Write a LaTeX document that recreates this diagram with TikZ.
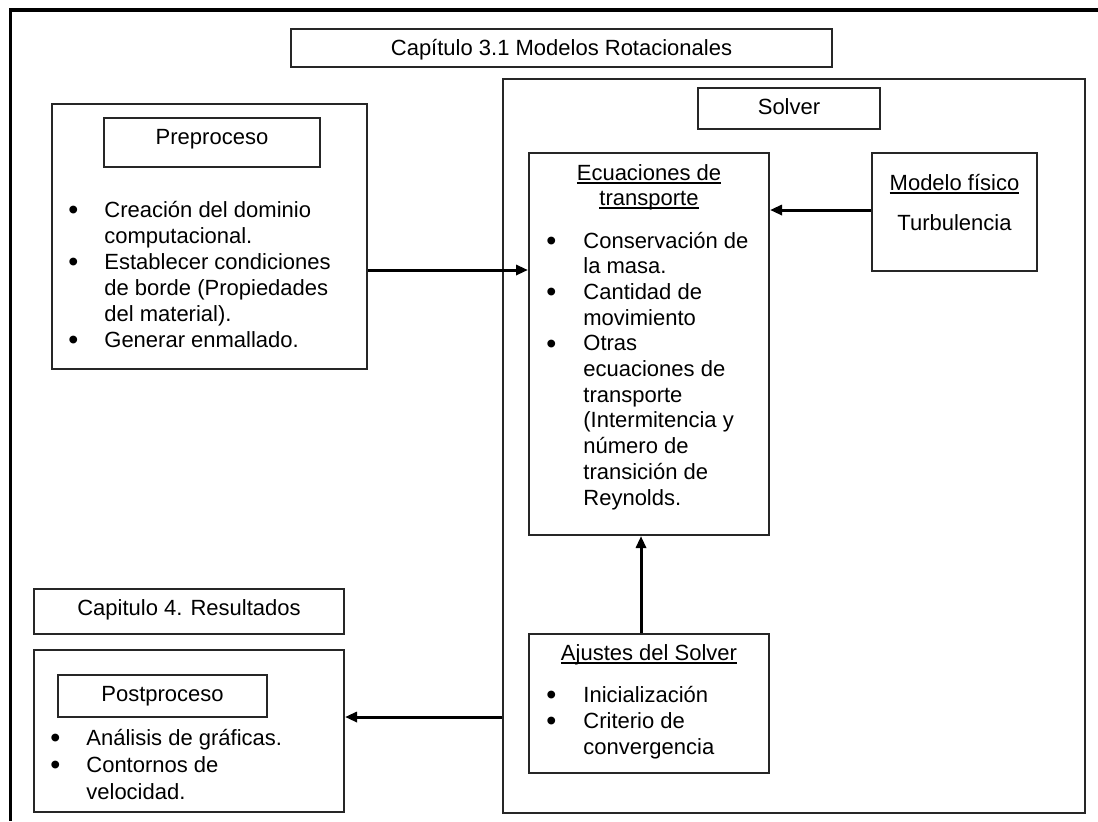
\documentclass[tikz,border=0pt]{standalone}
\usepackage{fontspec}
\setmainfont{Liberation Sans}
\usetikzlibrary{arrows.meta}
\newcommand\myul[1]{\setbox0\hbox{#1}\rlap{\rule[-1.8pt]{\wd0}{0.6pt}}\box0}
\newcommand\bul{\raisebox{-1.2pt}{\scalebox{1.3}{\textbullet}}}
\tikzset{
  box/.style={draw=black!85, line width=1pt, rectangle, inner sep=0pt},
  lbl/.style={anchor=base, inner sep=0pt, font=\fontsize{11}{13}\selectfont},
  lst/.style={anchor=base west, inner sep=0pt},
  conn/.style={line width=1.5pt, -{Triangle[length=6pt,width=5pt]}},
  frameline/.style={line width=1.75pt}
}
\begin{document}
\begin{tikzpicture}[x=0.5pt,y=-0.5pt]
\useasboundingbox (0,0) rectangle (1098,821);
\fill[white] (0,0) rectangle (1098,821);
\draw[frameline] (1098,10) -- (10.5,10) -- (10.5,821);

% boxes
\node[box,minimum width=270.5pt,minimum height=19pt] (title) at (561.5,48) {};
\node[box,minimum width=291pt,minimum height=367pt] (sol) at (793.5,446) {};
\node[box,minimum width=91pt,minimum height=20.5pt] (soltit) at (789,108.5) {};
\node[box,minimum width=157.5pt,minimum height=132.5pt] (pre) at (209.5,236.5) {};
\node[box,minimum width=108pt,minimum height=24.5pt] (pretit) at (212,142.5) {};
\node[box,minimum width=120pt,minimum height=191pt] (ecu) at (649,344) {};
\node[box,minimum width=82.5pt,minimum height=59pt] (mod) at (954.5,212) {};
\node[box,minimum width=120pt,minimum height=69.5pt] (aju) at (649,703.5) {};
\node[box,minimum width=155pt,minimum height=22.5pt] (cap4) at (189,611.5) {};
\node[box,minimum width=155pt,minimum height=81pt] (post) at (189,731) {};
\node[box,minimum width=104.5pt,minimum height=21pt] (posttit) at (162.5,696) {};

% titles
\node[lbl] (titletxt) at (561.5,55) {Capítulo 3.1 Modelos Rotacionales};
\node[lbl] (soltxt) at (789,114) {Solver};
\node[lbl] (pretxt) at (212,144) {Preproceso};
\node[lbl] (cap4txt) at (189,615) {Capitulo 4. Resultados};
\node[lbl] (posttxt) at (162.5,701) {Postproceso};
\node[lbl,font=\fontsize{11}{12.5}\selectfont] (ecutxt) at (649,180)
  {\begin{tabular}[t]{@{}c@{}}\myul{Ecuaciones de}\\ \myul{transporte}\end{tabular}};
\node[lbl] (modtxt) at (954.5,190) {\myul{Modelo físico}};
\node[lbl] (turb) at (954.5,230) {Turbulencia};
\node[lbl] (ajutxt) at (649,660) {\myul{Ajustes del Solver}};

% lists
\node[lst,font=\fontsize{11}{13}\selectfont] (prelist) at (68,217)
  {\begin{tabular}[t]{@{}p{18pt}@{}l@{}}
   \bul & Creación del dominio\\
        & computacional.\\
   \bul & Establecer condiciones\\
        & de borde (Propiedades\\
        & del material).\\
   \bul & Generar enmallado.
   \end{tabular}};
\node[lst,font=\fontsize{11}{12.85}\selectfont] (eculist) at (546,248)
  {\begin{tabular}[t]{@{}p{18.5pt}@{}l@{}}
   \bul & Conservación de\\
        & la masa.\\
   \bul & Cantidad de\\
        & movimiento\\
   \bul & Otras\\
        & ecuaciones de\\
        & transporte\\
        & (Intermitencia y\\
        & número de\\
        & transición de\\
        & Reynolds.
   \end{tabular}};
\node[lst,font=\fontsize{11}{13}\selectfont] (ajulist) at (546,702)
  {\begin{tabular}[t]{@{}p{18.5pt}@{}l@{}}
   \bul & Inicialización\\
   \bul & Criterio de\\
        & convergencia
   \end{tabular}};
\node[lst,font=\fontsize{11}{13.5}\selectfont] (postlist) at (50,745)
  {\begin{tabular}[t]{@{}p{18pt}@{}l@{}}
   \bul & Análisis de gráficas.\\
   \bul & Contornos de\\
        & velocidad.
   \end{tabular}};

% connectors
\coordinate (a1) at (0,270);
\coordinate (a2) at (0,210);
\coordinate (a3) at (641,0);
\coordinate (a4) at (0,717);
\draw[conn] (pre.east |- a1) -- (ecu.west |- a1);
\draw[conn] (mod.west |- a2) -- (ecu.east |- a2);
\draw[conn] (aju.north -| a3) -- (ecu.south -| a3);
\draw[conn] (sol.west |- a4) -- (post.east |- a4);
\end{tikzpicture}
\end{document}
